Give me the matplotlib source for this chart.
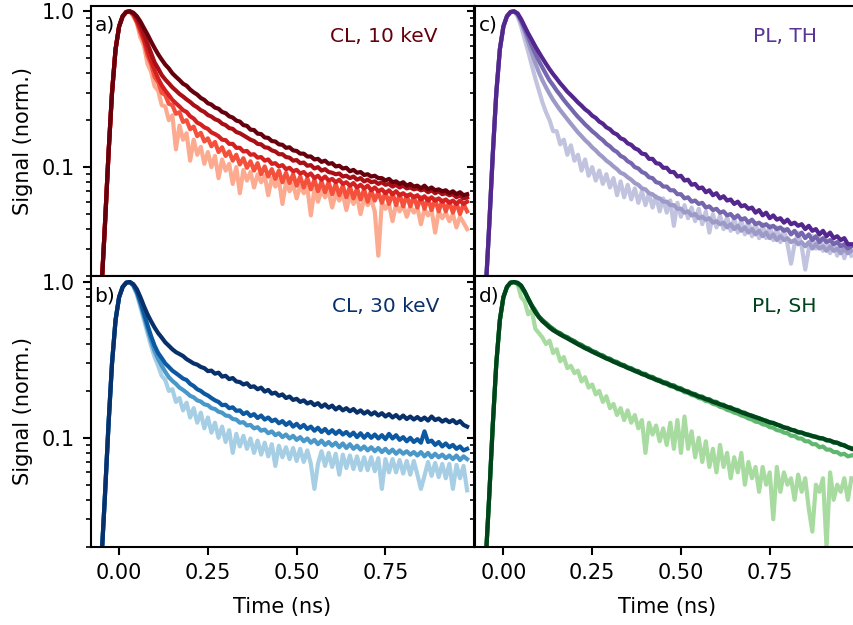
import matplotlib
matplotlib.use("Agg")
import matplotlib.pyplot as plt
from matplotlib.ticker import LogLocator, NullFormatter, FixedLocator

plt.rcParams['font.family'] = ['DejaVu Sans']

time_ns = [-0.05, -0.04, -0.03, -0.02, -0.01, 0.00, 0.01, 0.02, 0.03,
           0.04, 0.05, 0.06, 0.07, 0.08, 0.09, 0.10, 0.11, 0.12, 0.13,
           0.14, 0.15, 0.16, 0.17, 0.18, 0.19, 0.20, 0.21, 0.22, 0.23,
           0.24, 0.25, 0.26, 0.27, 0.28, 0.29, 0.30, 0.31, 0.32, 0.33,
           0.34, 0.35, 0.36, 0.37, 0.38, 0.39, 0.40, 0.41, 0.42, 0.43,
           0.44, 0.45, 0.46, 0.47, 0.48, 0.49, 0.50, 0.51, 0.52, 0.53,
           0.54, 0.55, 0.56, 0.57, 0.58, 0.59, 0.60, 0.61, 0.62, 0.63,
           0.64, 0.65, 0.66, 0.67, 0.68, 0.69, 0.70, 0.71, 0.72, 0.73,
           0.74, 0.75, 0.76, 0.77, 0.78, 0.79, 0.80, 0.81, 0.82, 0.83,
           0.84, 0.85, 0.86, 0.87, 0.88, 0.89, 0.90, 0.91, 0.92, 0.93,
           0.94, 0.95, 0.96, 0.97, 0.98]

# common instrument-limited rise (t = -0.05 ... 0.03 ns)
rise = [0.016, 0.042, 0.12, 0.30, 0.57, 0.80, 0.93, 0.99, 1.0]

# ---- a) CL, 10 keV (dark -> light) ----
cl10_1 = rise + [0.98, 0.93, 0.86, 0.78, 0.71, 0.64, 0.58, 0.53, 0.49, 0.455,
                 0.43, 0.40, 0.38, 0.362, 0.343, 0.333, 0.315, 0.302, 0.292, 0.278,
                 0.27, 0.257, 0.252, 0.241, 0.237, 0.226, 0.222, 0.212, 0.208, 0.199,
                 0.196, 0.186, 0.184, 0.174, 0.173, 0.164, 0.163, 0.155, 0.154, 0.147,
                 0.146, 0.140, 0.139, 0.133, 0.134, 0.128, 0.127, 0.122, 0.122, 0.117,
                 0.117, 0.112, 0.113, 0.108, 0.110, 0.105, 0.106, 0.101, 0.102, 0.098,
                 0.099, 0.094, 0.096, 0.092, 0.093, 0.089, 0.090, 0.087, 0.088, 0.085,
                 0.085, 0.082, 0.084, 0.080, 0.081, 0.078, 0.080, 0.076, 0.078, 0.075,
                 0.076, 0.073, 0.076, 0.072, 0.074, 0.071, 0.072, 0.070, 0.071, 0.068,
                 0.070, 0.067, 0.069, 0.066, 0.067]
cl10_2 = rise + [0.97, 0.90, 0.81, 0.71, 0.62, 0.54, 0.47, 0.43, 0.39, 0.365,
                 0.345, 0.325, 0.31, 0.295, 0.284, 0.272, 0.262, 0.250, 0.242, 0.232,
                 0.226, 0.216, 0.211, 0.203, 0.199, 0.190, 0.186, 0.178, 0.176, 0.168,
                 0.165, 0.160, 0.155, 0.150, 0.147, 0.141, 0.140, 0.134, 0.133, 0.128,
                 0.126, 0.121, 0.121, 0.116, 0.115, 0.110, 0.111, 0.106, 0.107, 0.102,
                 0.103, 0.098, 0.100, 0.095, 0.097, 0.093, 0.092, 0.090, 0.091, 0.087,
                 0.088, 0.085, 0.087, 0.083, 0.085, 0.081, 0.083, 0.080, 0.081, 0.078,
                 0.080, 0.077, 0.078, 0.075, 0.077, 0.074, 0.076, 0.073, 0.074, 0.072,
                 0.073, 0.071, 0.072, 0.069, 0.071, 0.068, 0.070, 0.067, 0.068, 0.066,
                 0.067, 0.064, 0.066, 0.063, 0.064]
cl10_3 = rise + [0.96, 0.87, 0.77, 0.66, 0.56, 0.48, 0.42, 0.37, 0.335, 0.31,
                 0.29, 0.27, 0.257, 0.245, 0.232, 0.226, 0.212, 0.205, 0.193, 0.188,
                 0.180, 0.176, 0.167, 0.163, 0.158, 0.150, 0.149, 0.141, 0.141, 0.133,
                 0.133, 0.126, 0.127, 0.120, 0.121, 0.115, 0.116, 0.110, 0.112, 0.105,
                 0.106, 0.101, 0.103, 0.097, 0.099, 0.094, 0.096, 0.091, 0.093, 0.088,
                 0.091, 0.085, 0.088, 0.083, 0.087, 0.082, 0.084, 0.080, 0.083, 0.078,
                 0.080, 0.076, 0.079, 0.074, 0.077, 0.073, 0.076, 0.071, 0.074, 0.070,
                 0.072, 0.068, 0.071, 0.067, 0.070, 0.066, 0.068, 0.065, 0.067, 0.064,
                 0.066, 0.062, 0.065, 0.061, 0.064, 0.061, 0.063, 0.060, 0.062, 0.059,
                 0.061, 0.058, 0.061, 0.058, 0.060]
cl10_4 = rise + [0.95, 0.85, 0.73, 0.64, 0.52, 0.46, 0.38, 0.35, 0.30, 0.29,
                 0.255, 0.25, 0.22, 0.225, 0.195, 0.20, 0.175, 0.182, 0.158, 0.166,
                 0.146, 0.153, 0.136, 0.145, 0.125, 0.134, 0.118, 0.126, 0.110, 0.120,
                 0.104, 0.114, 0.099, 0.109, 0.095, 0.106, 0.090, 0.101, 0.087, 0.097,
                 0.084, 0.095, 0.080, 0.092, 0.079, 0.090, 0.076, 0.087, 0.074, 0.085,
                 0.072, 0.083, 0.070, 0.081, 0.069, 0.080, 0.067, 0.078, 0.066, 0.076,
                 0.064, 0.075, 0.063, 0.073, 0.062, 0.072, 0.060, 0.071, 0.061, 0.069,
                 0.059, 0.069, 0.058, 0.068, 0.057, 0.067, 0.056, 0.066, 0.056, 0.065,
                 0.055, 0.064, 0.054, 0.063, 0.053, 0.062, 0.052, 0.061, 0.052, 0.060,
                 0.051, 0.059, 0.050, 0.058, 0.052]
cl10_5 = rise + [0.93, 0.84, 0.68, 0.60, 0.46, 0.41, 0.33, 0.31, 0.25, 0.245,
                 0.20, 0.215, 0.13, 0.185, 0.15, 0.165, 0.11, 0.15, 0.12, 0.135,
                 0.105, 0.125, 0.10, 0.118, 0.085, 0.112, 0.095, 0.105, 0.078, 0.100,
                 0.068, 0.096, 0.082, 0.093, 0.074, 0.090, 0.080, 0.088, 0.066, 0.085,
                 0.075, 0.083, 0.058, 0.080, 0.070, 0.078, 0.063, 0.076, 0.068, 0.074,
                 0.049, 0.072, 0.060, 0.071, 0.064, 0.070, 0.055, 0.068, 0.061, 0.067,
                 0.053, 0.066, 0.058, 0.065, 0.050, 0.063, 0.057, 0.062, 0.052, 0.027,
                 0.060, 0.054, 0.058, 0.045, 0.058, 0.052, 0.057, 0.048, 0.056, 0.051,
                 0.055, 0.043, 0.054, 0.049, 0.053, 0.038, 0.052, 0.047, 0.051, 0.045,
                 0.050, 0.041, 0.048, 0.044, 0.040]

# ---- b) CL, 30 keV ----
cl30_1 = rise + [0.97, 0.90, 0.80, 0.70, 0.62, 0.56, 0.51, 0.47, 0.44, 0.41,
                 0.39, 0.37, 0.355, 0.345, 0.335, 0.32, 0.31, 0.30, 0.295, 0.285,
                 0.28, 0.268, 0.27, 0.258, 0.262, 0.247, 0.25, 0.238, 0.242, 0.23,
                 0.228, 0.22, 0.224, 0.212, 0.214, 0.205, 0.21, 0.198, 0.203, 0.192,
                 0.195, 0.186, 0.19, 0.18, 0.184, 0.175, 0.178, 0.170, 0.174, 0.166,
                 0.170, 0.162, 0.167, 0.158, 0.164, 0.156, 0.161, 0.152, 0.158, 0.150,
                 0.155, 0.148, 0.153, 0.145, 0.150, 0.143, 0.148, 0.141, 0.146, 0.139,
                 0.144, 0.137, 0.142, 0.135, 0.140, 0.133, 0.139, 0.132, 0.137, 0.131,
                 0.136, 0.130, 0.135, 0.129, 0.137, 0.130, 0.133, 0.127, 0.131, 0.126,
                 0.130, 0.124, 0.128, 0.121, 0.118]
cl30_2 = rise + [0.96, 0.87, 0.75, 0.63, 0.53, 0.45, 0.39, 0.35, 0.325, 0.30,
                 0.285, 0.27, 0.26, 0.25, 0.24, 0.235, 0.222, 0.215, 0.205, 0.200,
                 0.192, 0.187, 0.180, 0.174, 0.170, 0.162, 0.163, 0.155, 0.157, 0.149,
                 0.150, 0.142, 0.146, 0.138, 0.142, 0.134, 0.139, 0.131, 0.135, 0.128,
                 0.131, 0.124, 0.128, 0.121, 0.126, 0.118, 0.123, 0.116, 0.121, 0.114,
                 0.118, 0.111, 0.116, 0.109, 0.114, 0.107, 0.112, 0.106, 0.111, 0.105,
                 0.109, 0.103, 0.108, 0.101, 0.107, 0.100, 0.106, 0.100, 0.105, 0.099,
                 0.104, 0.098, 0.106, 0.099, 0.104, 0.097, 0.101, 0.095, 0.100, 0.094,
                 0.098, 0.093, 0.110, 0.094, 0.096, 0.090, 0.094, 0.088, 0.092, 0.087,
                 0.090, 0.085, 0.088, 0.083, 0.085]
cl30_3 = rise + [0.95, 0.85, 0.72, 0.60, 0.50, 0.42, 0.36, 0.32, 0.29, 0.265,
                 0.245, 0.232, 0.222, 0.210, 0.203, 0.195, 0.186, 0.182, 0.174, 0.171,
                 0.164, 0.162, 0.155, 0.153, 0.147, 0.145, 0.139, 0.138, 0.132, 0.131,
                 0.125, 0.126, 0.120, 0.121, 0.115, 0.117, 0.111, 0.113, 0.107, 0.110,
                 0.104, 0.107, 0.101, 0.105, 0.099, 0.103, 0.097, 0.101, 0.095, 0.099,
                 0.093, 0.097, 0.091, 0.096, 0.090, 0.094, 0.089, 0.093, 0.087, 0.092,
                 0.086, 0.091, 0.085, 0.089, 0.084, 0.088, 0.083, 0.087, 0.082, 0.086,
                 0.081, 0.085, 0.080, 0.084, 0.079, 0.083, 0.079, 0.082, 0.078, 0.081,
                 0.077, 0.081, 0.076, 0.080, 0.075, 0.079, 0.075, 0.078, 0.074, 0.077,
                 0.073, 0.077, 0.072, 0.076, 0.073]
cl30_4 = rise + [0.94, 0.83, 0.69, 0.57, 0.47, 0.39, 0.33, 0.29, 0.25, 0.235,
                 0.20, 0.205, 0.17, 0.18, 0.15, 0.168, 0.135, 0.155, 0.125, 0.145,
                 0.115, 0.135, 0.108, 0.125, 0.10, 0.118, 0.094, 0.112, 0.08, 0.106,
                 0.088, 0.103, 0.085, 0.099, 0.080, 0.096, 0.078, 0.093, 0.076, 0.091,
                 0.066, 0.089, 0.075, 0.087, 0.073, 0.086, 0.071, 0.085, 0.070, 0.083,
                 0.068, 0.047, 0.068, 0.082, 0.066, 0.080, 0.065, 0.079, 0.058, 0.078,
                 0.064, 0.077, 0.063, 0.076, 0.062, 0.075, 0.062, 0.075, 0.061, 0.074,
                 0.047, 0.073, 0.060, 0.073, 0.060, 0.072, 0.059, 0.071, 0.058, 0.071,
                 0.058, 0.047, 0.057, 0.070, 0.057, 0.069, 0.056, 0.068, 0.055, 0.068,
                 0.047, 0.067, 0.055, 0.066, 0.046]

# ---- c) PL, TH ----
plth_1 = rise + [0.97, 0.89, 0.80, 0.72, 0.655, 0.595, 0.545, 0.50, 0.46, 0.425,
                 0.395, 0.37, 0.345, 0.325, 0.305, 0.29, 0.275, 0.26, 0.248, 0.235,
                 0.226, 0.214, 0.207, 0.196, 0.190, 0.180, 0.175, 0.166, 0.162, 0.153,
                 0.150, 0.142, 0.139, 0.132, 0.129, 0.122, 0.121, 0.113, 0.113, 0.106,
                 0.105, 0.099, 0.099, 0.093, 0.093, 0.087, 0.088, 0.082, 0.083, 0.077,
                 0.078, 0.073, 0.074, 0.069, 0.071, 0.066, 0.068, 0.063, 0.065, 0.061,
                 0.062, 0.058, 0.060, 0.056, 0.057, 0.054, 0.055, 0.051, 0.053, 0.049,
                 0.051, 0.047, 0.049, 0.046, 0.047, 0.044, 0.046, 0.043, 0.044, 0.042,
                 0.043, 0.040, 0.042, 0.039, 0.040, 0.037, 0.039, 0.036, 0.038, 0.035,
                 0.036, 0.034, 0.035, 0.032, 0.032]
plth_2 = rise + [0.96, 0.87, 0.77, 0.68, 0.60, 0.535, 0.48, 0.435, 0.395, 0.36,
                 0.335, 0.31, 0.29, 0.27, 0.253, 0.238, 0.223, 0.210, 0.199, 0.188,
                 0.179, 0.170, 0.163, 0.155, 0.149, 0.141, 0.136, 0.129, 0.125, 0.118,
                 0.115, 0.109, 0.106, 0.100, 0.098, 0.093, 0.091, 0.086, 0.085, 0.080,
                 0.079, 0.075, 0.075, 0.071, 0.071, 0.067, 0.067, 0.063, 0.064, 0.060,
                 0.061, 0.058, 0.059, 0.055, 0.056, 0.053, 0.054, 0.051, 0.052, 0.049,
                 0.050, 0.047, 0.049, 0.046, 0.047, 0.044, 0.046, 0.043, 0.044, 0.042,
                 0.043, 0.041, 0.042, 0.040, 0.041, 0.039, 0.040, 0.037, 0.039, 0.036,
                 0.038, 0.035, 0.037, 0.034, 0.036, 0.033, 0.035, 0.033, 0.034, 0.032,
                 0.033, 0.031, 0.032, 0.030, 0.031]
plth_3 = rise + [0.95, 0.85, 0.74, 0.63, 0.54, 0.465, 0.405, 0.36, 0.325, 0.295,
                 0.27, 0.25, 0.232, 0.217, 0.203, 0.19, 0.178, 0.167, 0.158, 0.149,
                 0.142, 0.134, 0.128, 0.121, 0.116, 0.110, 0.106, 0.101, 0.097, 0.092,
                 0.090, 0.086, 0.083, 0.079, 0.077, 0.073, 0.072, 0.068, 0.067, 0.064,
                 0.063, 0.060, 0.060, 0.057, 0.057, 0.054, 0.054, 0.051, 0.052, 0.049,
                 0.050, 0.047, 0.048, 0.046, 0.047, 0.044, 0.045, 0.043, 0.044, 0.041,
                 0.043, 0.040, 0.042, 0.039, 0.041, 0.038, 0.040, 0.037, 0.039, 0.036,
                 0.038, 0.035, 0.037, 0.034, 0.036, 0.034, 0.035, 0.033, 0.034, 0.032,
                 0.033, 0.031, 0.033, 0.030, 0.032, 0.030, 0.031, 0.029, 0.031, 0.029,
                 0.030, 0.028, 0.030, 0.028, 0.029]
plth_4 = rise + [0.93, 0.80, 0.66, 0.55, 0.45, 0.37, 0.31, 0.26, 0.225, 0.20,
                 0.17, 0.17, 0.14, 0.15, 0.12, 0.138, 0.11, 0.12, 0.095, 0.112,
                 0.088, 0.10, 0.082, 0.095, 0.078, 0.09, 0.074, 0.085, 0.066, 0.081,
                 0.064, 0.077, 0.062, 0.073, 0.059, 0.07, 0.057, 0.068, 0.055, 0.065,
                 0.052, 0.063, 0.051, 0.061, 0.042, 0.059, 0.048, 0.057, 0.047, 0.055,
                 0.045, 0.054, 0.043, 0.052, 0.038, 0.050, 0.041, 0.049, 0.040, 0.048,
                 0.039, 0.047, 0.038, 0.046, 0.037, 0.045, 0.036, 0.044, 0.035, 0.043,
                 0.035, 0.042, 0.034, 0.041, 0.033, 0.040, 0.032, 0.024, 0.032, 0.038,
                 0.031, 0.022, 0.030, 0.036, 0.030, 0.035, 0.029, 0.034, 0.028, 0.033,
                 0.027, 0.032, 0.026, 0.031, 0.027]

# ---- d) PL, SH ----
plsh_1 = rise + [0.99, 0.95, 0.87, 0.78, 0.70, 0.64, 0.595, 0.56, 0.535, 0.51,
                 0.49, 0.475, 0.46, 0.447, 0.435, 0.422, 0.41, 0.398, 0.387, 0.376,
                 0.367, 0.357, 0.348, 0.340, 0.331, 0.323, 0.316, 0.308, 0.301, 0.294,
                 0.288, 0.281, 0.275, 0.269, 0.263, 0.257, 0.252, 0.246, 0.241, 0.236,
                 0.231, 0.226, 0.222, 0.217, 0.213, 0.208, 0.204, 0.200, 0.196, 0.192,
                 0.188, 0.184, 0.181, 0.177, 0.174, 0.170, 0.167, 0.164, 0.161, 0.158,
                 0.155, 0.152, 0.149, 0.146, 0.143, 0.141, 0.138, 0.136, 0.133, 0.131,
                 0.128, 0.126, 0.124, 0.122, 0.119, 0.117, 0.115, 0.113, 0.111, 0.109,
                 0.108, 0.106, 0.104, 0.103, 0.101, 0.100, 0.099, 0.097, 0.096, 0.094,
                 0.093, 0.091, 0.089, 0.087, 0.085]
plsh_2 = rise + [0.98, 0.94, 0.86, 0.78, 0.71, 0.655, 0.60, 0.57, 0.545, 0.52,
                 0.50, 0.48, 0.47, 0.452, 0.443, 0.428, 0.418, 0.403, 0.395, 0.381,
                 0.375, 0.361, 0.355, 0.343, 0.338, 0.326, 0.322, 0.311, 0.307, 0.297,
                 0.293, 0.283, 0.280, 0.271, 0.268, 0.259, 0.257, 0.248, 0.246, 0.238,
                 0.235, 0.228, 0.226, 0.219, 0.217, 0.210, 0.208, 0.201, 0.199, 0.193,
                 0.191, 0.185, 0.184, 0.178, 0.177, 0.171, 0.170, 0.164, 0.163, 0.158,
                 0.157, 0.152, 0.151, 0.146, 0.145, 0.140, 0.139, 0.135, 0.134, 0.130,
                 0.129, 0.125, 0.125, 0.121, 0.120, 0.116, 0.116, 0.112, 0.112, 0.108,
                 0.108, 0.105, 0.105, 0.102, 0.102, 0.099, 0.099, 0.096, 0.096, 0.093,
                 0.093, 0.090, 0.090, 0.087, 0.086]
plsh_3 = rise + [0.97, 0.93, 0.86, 0.77, 0.70, 0.645, 0.60, 0.565, 0.54, 0.515,
                 0.495, 0.478, 0.463, 0.45, 0.437, 0.425, 0.412, 0.40, 0.39, 0.378,
                 0.37, 0.358, 0.352, 0.340, 0.335, 0.323, 0.319, 0.308, 0.304, 0.294,
                 0.291, 0.281, 0.278, 0.268, 0.266, 0.256, 0.254, 0.245, 0.243, 0.234,
                 0.232, 0.224, 0.222, 0.214, 0.213, 0.205, 0.204, 0.196, 0.195, 0.188,
                 0.186, 0.180, 0.178, 0.172, 0.171, 0.165, 0.163, 0.158, 0.156, 0.151,
                 0.149, 0.145, 0.143, 0.139, 0.137, 0.133, 0.131, 0.127, 0.126, 0.122,
                 0.121, 0.117, 0.116, 0.112, 0.111, 0.108, 0.107, 0.103, 0.103, 0.099,
                 0.099, 0.095, 0.095, 0.091, 0.091, 0.087, 0.088, 0.084, 0.084, 0.081,
                 0.081, 0.078, 0.079, 0.076, 0.077]
plsh_4 = rise + [0.97, 0.80, 0.75, 0.62, 0.66, 0.50, 0.47, 0.44, 0.40, 0.42,
                 0.35, 0.37, 0.31, 0.33, 0.28, 0.29, 0.26, 0.27, 0.23, 0.245,
                 0.21, 0.22, 0.19, 0.20, 0.17, 0.185, 0.155, 0.165, 0.14, 0.155,
                 0.13, 0.15, 0.125, 0.14, 0.115, 0.13, 0.08, 0.125, 0.105, 0.12,
                 0.095, 0.115, 0.09, 0.125, 0.085, 0.13, 0.08, 0.137, 0.085, 0.11,
                 0.075, 0.10, 0.07, 0.095, 0.065, 0.085, 0.06, 0.09, 0.065, 0.08,
                 0.055, 0.075, 0.06, 0.08, 0.05, 0.07, 0.055, 0.065, 0.045, 0.065,
                 0.05, 0.06, 0.03, 0.065, 0.045, 0.06, 0.05, 0.055, 0.04, 0.058,
                 0.045, 0.055, 0.035, 0.025, 0.05, 0.045, 0.055, 0.02, 0.06, 0.04,
                 0.05, 0.045, 0.055, 0.04, 0.055]

panels = [
    dict(letter="a)", label="CL, 10 keV", label_color="#67000d", label_x=0.905,
         series=[cl10_5, cl10_4, cl10_3, cl10_2, cl10_1],
         colors=["#fcab90", "#f4503b", "#d32020", "#a91016", "#67000d"]),
    dict(letter="c)", label="PL, TH", label_color="#5a3596", label_x=0.891,
         series=[plth_4, plth_3, plth_2, plth_1],
         colors=["#c2c3df", "#9e9ac8", "#7566ae", "#54278f"]),
    dict(letter="b)", label="CL, 30 keV", label_color="#08306b", label_x=0.909,
         series=[cl30_4, cl30_3, cl30_2, cl30_1],
         colors=["#a6cee4", "#4a98c9", "#0d59a1", "#08306b"]),
    dict(letter="d)", label="PL, SH", label_color="#00441b", label_x=0.891,
         series=[plsh_4, plsh_3, plsh_2, plsh_1],
         colors=["#a7dba0", "#5fb86d", "#1f8040", "#00441b"]),
]

W, H = 854, 625
fig = plt.figure(figsize=(W / 100, H / 100), dpi=100)

ax_w = 383.5 / W
ax_h = 270.5 / H
lefts = [90.7 / W, 475.0 / W]
bottoms = [1 - 276.0 / H, 1 - 546.7 / H]

positions = [(lefts[0], bottoms[0]), (lefts[1], bottoms[0]),
             (lefts[0], bottoms[1]), (lefts[1], bottoms[1])]

FS = 15
for i, (p, (x0, y0)) in enumerate(zip(panels, positions)):
    ax = fig.add_axes([x0, y0, ax_w, ax_h])
    for s, c in zip(p["series"], p["colors"]):
        ax.plot(time_ns, s, color=c, lw=3.0, solid_joinstyle="round")
    ax.set_yscale("log")
    ax.set_xlim(-0.08, 1.0)
    ax.set_ylim(0.02, 1.09)
    ax.yaxis.set_major_locator(FixedLocator([0.1, 1.0]))
    ax.yaxis.set_minor_locator(LogLocator(base=10, subs=range(2, 10)))
    ax.yaxis.set_minor_formatter(NullFormatter())
    ax.set_xticks([0.0, 0.25, 0.5, 0.75])
    ax.tick_params(axis="both", which="major", direction="out", length=5.5,
                   width=1.5, labelsize=FS)
    ax.tick_params(axis="y", which="major", pad=6)
    ax.tick_params(axis="x", which="major", pad=6)
    ax.tick_params(axis="y", which="minor", direction="out", length=3.5, width=1.2)
    for sp in ax.spines.values():
        sp.set_linewidth(1.5)
    col = i % 2
    row = i // 2
    if col == 0:
        ax.set_yticklabels(["0.1", "1.0"])
        ax.set_ylabel("Signal (norm.)", fontsize=FS, labelpad=6)
    else:
        ax.set_yticklabels([])
    if row == 0:
        ax.tick_params(axis="x", which="both", bottom=False, labelbottom=False)
    else:
        ax.set_xticklabels(["0.00", "0.25", "0.50", "0.75"])
        ax.set_xlabel("Time (ns)", fontsize=FS, labelpad=10)
    ax.text(0.010, 0.962, p["letter"], transform=ax.transAxes, fontsize=14.5,
            ha="left", va="top", color="black")
    ax.text(p["label_x"], 0.866, p["label"], transform=ax.transAxes, fontsize=14.5,
            ha="right", va="baseline", color=p["label_color"])

fig.savefig("out.png", dpi=100)
